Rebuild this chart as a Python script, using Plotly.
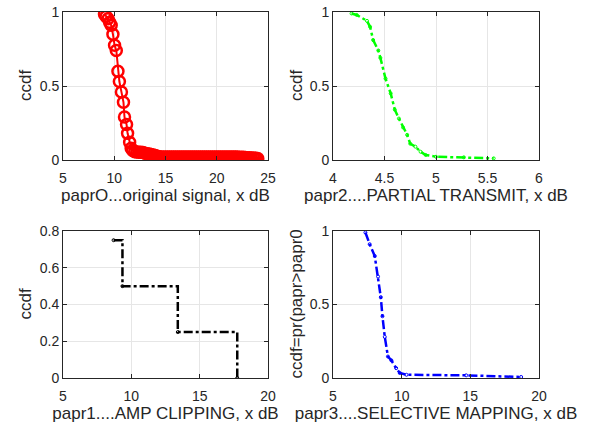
import plotly.graph_objects as go

# --- subplot 1: original signal (red, circles)
papr0_x = [9.05, 9.2, 9.4, 9.55, 9.7, 9.87, 10.03, 10.2, 10.36, 10.5, 10.7, 10.9, 11.0, 11.2, 11.3,
           11.5, 11.65, 11.8, 12.0, 12.2, 12.4, 12.6, 12.8, 13.0, 13.2, 13.4, 13.6, 13.8, 14.0,
           14.2, 14.4, 14.6, 14.8, 15.0, 15.2, 15.4, 15.6, 15.8, 16.0, 16.2, 16.4, 16.6, 16.8,
           17.0, 17.2, 17.4, 17.6, 17.8, 18.0, 18.2, 18.4, 18.6, 18.8, 19.0, 19.2, 19.4, 19.6,
           19.8, 20.0, 20.2, 20.4, 20.6, 20.8, 21.0, 21.2, 21.4, 21.6, 21.8, 22.0, 22.2, 22.4,
           22.6, 22.8, 23.0, 23.2, 23.4, 23.6, 23.8, 24.0]
ccdf0 = [0.985, 0.97, 0.955, 0.93, 0.91, 0.85, 0.775, 0.74, 0.6, 0.53, 0.46, 0.39, 0.29, 0.24, 0.18,
         0.12, 0.08, 0.065, 0.056, 0.054, 0.053, 0.052, 0.05, 0.046, 0.043, 0.04, 0.037, 0.034, 0.03,
         0.026, 0.022, 0.021, 0.021, 0.02, 0.02, 0.02, 0.02, 0.02, 0.02, 0.02, 0.02, 0.02, 0.02,
         0.02, 0.02, 0.02, 0.02, 0.02, 0.02, 0.02, 0.02, 0.02, 0.02, 0.02, 0.02, 0.02, 0.02,
         0.02, 0.02, 0.02, 0.02, 0.02, 0.02, 0.02, 0.02, 0.02, 0.02, 0.02, 0.02, 0.019, 0.019,
         0.018, 0.017, 0.016, 0.015, 0.014, 0.013, 0.012, 0.01]

# --- subplot 2: partial transmit sequence (green)
papr2_x = [4.18, 4.23, 4.33, 4.36, 4.39, 4.44, 4.46, 4.51, 4.56, 4.6, 4.64, 4.68, 4.72, 4.75,
           4.8, 4.85, 4.9, 5.0, 5.27, 5.56]
ccdf2 = [0.99, 0.98, 0.94, 0.9, 0.81, 0.74, 0.69, 0.55, 0.45, 0.34, 0.28, 0.22, 0.17, 0.11,
         0.09, 0.056, 0.034, 0.022, 0.018, 0.011]

# --- subplot 3: amplitude clipping (black, stairs)
papr1_x = [8.7, 9.35, 13.4, 17.75]
ccdf1 = [0.75, 0.5, 0.25, 0.0]

# --- subplot 4: selective mapping (blue)
papr3_x = [7.36, 7.67, 8.04, 8.28, 8.48, 8.6, 8.77, 9.0, 9.25, 9.6, 9.86, 10.35, 14.7, 18.7]
ccdf3 = [0.99, 0.91, 0.83, 0.69, 0.55, 0.42, 0.28, 0.146, 0.12, 0.067, 0.034, 0.022, 0.018, 0.007]

ylabels = ["ccdf", "ccdf", "ccdf", "ccdf=pr(papr>papr0"]

FONT = "Liberation Sans, Arial, sans-serif"
TXT = "#262626"

W, H = 592, 427

fig = go.Figure()
fig.add_trace(go.Scatter(x=papr0_x, y=ccdf0, mode="lines+markers", xaxis="x", yaxis="y",
                         line=dict(color="#ff0000", width=2),
                         marker=dict(symbol="circle-open", size=11, color="#ff0000",
                                     line=dict(width=2.5, color="#ff0000"))))
fig.add_trace(go.Scatter(x=papr2_x, y=ccdf2, mode="lines+markers", xaxis="x2", yaxis="y2",
                         line=dict(color="#00ff00", width=2.5, dash="dashdot"),
                         marker=dict(symbol="circle-open", size=3, color="#00ff00",
                                     line=dict(width=1, color="#00ff00"))))
fig.add_trace(go.Scatter(x=papr1_x, y=ccdf1, mode="lines+markers", xaxis="x3", yaxis="y3",
                         line=dict(color="#000000", width=2.5, dash="dashdot", shape="hv"),
                         marker=dict(symbol="circle-open", size=3, color="#000000",
                                     line=dict(width=1, color="#000000"))))
fig.add_trace(go.Scatter(x=papr3_x, y=ccdf3, mode="lines+markers", xaxis="x4", yaxis="y4",
                         line=dict(color="#0000ff", width=2.5, dash="dashdot"),
                         marker=dict(symbol="circle-open", size=3, color="#0000ff",
                                     line=dict(width=1, color="#0000ff"))))

def xdom(a, b):
    return [a / W, b / W]

def ydom(top, bottom):
    return [1 - bottom / H, 1 - top / H]

xd_l = xdom(63, 268)
xd_r = xdom(333, 539)
yd_t = ydom(12, 160)
yd_b = ydom(231, 378)

def ax(**kw):
    base = dict(showline=True, linecolor="#262626", linewidth=1, mirror="ticks",
                ticks="inside", ticklen=4, tickcolor="#262626", automargin=False,
                ticklabeloverflow="allow",
                showgrid=True, gridcolor="#e6e6e6", gridwidth=1, zeroline=False,
                tickfont=dict(family=FONT, size=14, color=TXT))
    base.update(kw)
    return base

def title(t):
    return dict(text=t, font=dict(family=FONT, size=17, color=TXT), standoff=3)

fig.update_layout(
    width=W, height=H, showlegend=False,
    paper_bgcolor="white", plot_bgcolor="white",
    margin=dict(l=0, r=0, t=0, b=0),
    xaxis=ax(domain=xd_l, anchor="y", range=[5, 25], tickvals=[5, 10, 15, 20, 25],
             ticklabelstandoff=5, title=title("paprO...original signal, x dB")),
    yaxis=ax(domain=yd_t, anchor="x", range=[0, 1], tickvals=[0, 0.5, 1]),
    xaxis2=ax(domain=xd_r, anchor="y2", range=[4, 6], tickvals=[4, 4.5, 5, 5.5, 6],
              ticklabelstandoff=5, title=title("papr2....PARTIAL TRANSMIT, x dB")),
    yaxis2=ax(domain=yd_t, anchor="x2", range=[0, 1], tickvals=[0, 0.5, 1]),
    xaxis3=ax(domain=xd_l, anchor="y3", range=[5, 20], tickvals=[5, 10, 15, 20],
              ticklabelstandoff=5, title=title("papr1....AMP CLIPPING, x dB")),
    yaxis3=ax(domain=yd_b, anchor="x3", range=[0, 0.8], tickvals=[0, 0.2, 0.4, 0.6, 0.8]),
    xaxis4=ax(domain=xd_r, anchor="y4", range=[5, 20], tickvals=[5, 10, 15, 20],
              ticklabelstandoff=5, title=title("papr3....SELECTIVE MAPPING, x dB")),
    yaxis4=ax(domain=yd_b, anchor="x4", range=[0, 1], tickvals=[0, 0.5, 1]),
)

# y-axis titles placed as rotated paper annotations
ylab_pos = [(25, yd_t), (296, yd_t), (25, yd_b), (296, yd_b)]
for text, (px, yd) in zip(ylabels, ylab_pos):
    fig.add_annotation(text=text, xref="paper", yref="paper", x=px / W, y=(yd[0] + yd[1]) / 2,
                       xanchor="center", yanchor="middle", textangle=-90, showarrow=False,
                       font=dict(family=FONT, size=17, color=TXT))

# remove the browser's default page margin so the figure sits at the window origin
fig.write_html("out.html", config={"displayModeBar": False},
               post_script="document.body.style.margin='0';")
